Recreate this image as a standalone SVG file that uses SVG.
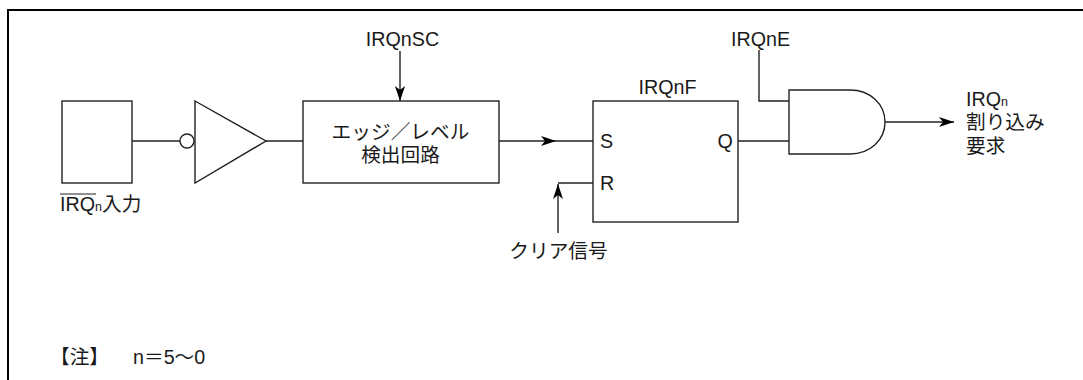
<svg xmlns="http://www.w3.org/2000/svg" width="1083" height="380" viewBox="0 0 1083 380">
<defs>
<marker id="ah" markerUnits="userSpaceOnUse" markerWidth="16" markerHeight="10" refX="15" refY="5" orient="auto"><path d="M0 0L15 5L0 10L4 5Z" fill="#000"/></marker>
</defs>
<style>
text{font-family:"Liberation Sans","Noto Sans CJK JP",sans-serif;font-size:19.7px;fill:#1a1a1a}
.sub{font-size:12.5px}
.s{fill:#fff;stroke:#222;stroke-width:1.4}
.c{fill:none;stroke:#222;stroke-width:1.4}
</style>
<rect width="1083" height="380" fill="#fff"/>
<path d="M8 380V10H1083" fill="none" stroke="#000" stroke-width="2"/>
<g id="connectors">
<path class="c" d="M132 141H180"/>
<path class="c" d="M266 141H303"/>
<path class="c" d="M400 51V101" marker-end="url(#ah)"/>
<path class="c" d="M499 141H556" marker-end="url(#ah)"/>
<path class="c" d="M556 141H593"/>
<path class="c" d="M593 183H558"/>
<path class="c" d="M558 233V184" marker-end="url(#ah)"/>
<path class="c" d="M738 141H789"/>
<path class="c" d="M759 50V101H789"/>
<path class="c" d="M885 122H954" marker-end="url(#ah)"/>
</g>
<g id="input"><rect class="s" x="62" y="101" width="70" height="82"/><text x="60" y="211">IRQ<tspan class="sub">n</tspan>入力</text><path fill="none" stroke="#222" stroke-width="1" d="M60 194H96"/></g>
<g id="inverter"><path class="s" d="M195 101L266 141L195 183Z"/><circle class="s" cx="187" cy="141" r="7"/></g>
<g id="detector"><rect class="s" x="303" y="101" width="196" height="82"/><text x="400.500" y="139" text-anchor="middle">エッジ／レベル</text><text x="400.500" y="162" text-anchor="middle">検出回路</text></g>
<g id="irqnsc"><text x="402.500" y="46" text-anchor="middle">IRQnSC</text></g>
<g id="flipflop"><rect class="s" x="593" y="101" width="145" height="121"/><text x="638.500" y="94">IRQnF</text><text x="600" y="148">S</text><text x="600" y="190">R</text><text x="717.500" y="148">Q</text></g>
<g id="clear"><text x="558.500" y="258" text-anchor="middle">クリア信号</text></g>
<g id="irqne"><text x="731" y="46">IRQnE</text></g>
<g id="and"><path class="s" d="M789 90H850C870 90 885 104 885 122C885 140 870 154 850 154H789Z"/></g>
<g id="output"><text x="966" y="106">IRQ<tspan class="sub">n</tspan></text><text x="966" y="129">割り込み</text><text x="966" y="153">要求</text></g>
<g id="note"><text x="50" y="364">【注】</text><text x="133" y="364">n＝5〜0</text></g>
</svg>
